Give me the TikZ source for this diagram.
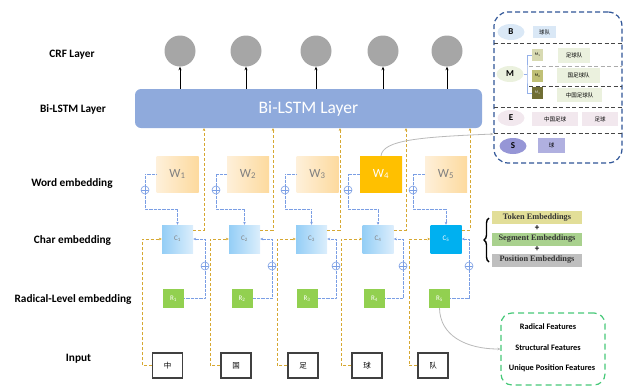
\documentclass[tikz,border=0pt]{standalone}
\usepackage{fontspec}
\setmainfont{Carlito}
\newfontfamily\cjk{Noto Sans CJK SC}
\newfontfamily\tms{Liberation Serif}
\usetikzlibrary{arrows.meta,shapes.geometric,decorations.pathreplacing}

\definecolor{lstmblue}{RGB}{143,170,220}
\definecolor{crfgray}{RGB}{166,166,166}
\definecolor{wlight}{RGB}{254,240,218}
\definecolor{wdark}{RGB}{253,218,158}
\definecolor{whi}{RGB}{255,192,0}
\definecolor{cdark}{RGB}{148,206,246}
\definecolor{clight}{RGB}{220,238,252}
\definecolor{chi}{RGB}{0,176,240}
\definecolor{rgreen}{RGB}{146,208,80}
\definecolor{feedc}{RGB}{214,168,50}
\definecolor{linkc}{RGB}{122,158,228}
\definecolor{panelc}{RGB}{47,85,151}
\definecolor{sepc}{RGB}{70,70,70}
\definecolor{bfill}{RGB}{218,232,246}
\definecolor{mfill}{RGB}{235,241,222}
\definecolor{efill}{RGB}{242,232,238}
\definecolor{sfill}{RGB}{150,150,214}
\definecolor{sbox}{RGB}{176,176,224}
\definecolor{mone}{RGB}{216,218,178}
\definecolor{mtwo}{RGB}{192,192,118}
\definecolor{mthree}{RGB}{112,110,52}
\definecolor{tokc}{RGB}{226,222,152}
\definecolor{segc}{RGB}{169,209,142}
\definecolor{posc}{RGB}{191,191,191}
\definecolor{featc}{RGB}{70,200,120}
\definecolor{curvec}{RGB}{185,185,185}

\tikzset{
  crf/.style={circle,fill=crfgray,minimum size=31pt,inner sep=0pt},
  uparrow/.style={-{Stealth[length=3.5pt,width=3pt]},line width=0.9pt,black},
  lstmbox/.style={rounded corners=6pt,fill=lstmblue,minimum width=347pt,minimum height=39pt,
    text=white,font=\fontsize{17.5}{17.5}\selectfont},
  wbox/.style={minimum width=42pt,minimum height=36pt,inner sep=0pt,font=\fontsize{12.5}{12.5}\selectfont},
  cbox/.style={minimum width=31pt,minimum height=28pt,inner sep=0pt,font=\fontsize{7}{7}\selectfont},
  rbox/.style={fill=rgreen,minimum width=21pt,minimum height=19pt,inner sep=0pt,text=white,
    font=\fontsize{7}{7}\selectfont},
  inbox/.style={draw=black!75,line width=1.2pt,fill=white,minimum width=30pt,minimum height=25pt,
    inner sep=0pt,font=\cjk\fontsize{7.5}{7.5}\selectfont},
  feed/.style={feedc,dash pattern=on 3pt off 2pt,line width=0.8pt},
  link/.style={linkc,dash pattern=on 0.7pt off 0.6pt,line width=1pt},
  tip/.style={-{Stealth[length=3pt,width=2.6pt]}},
  oplus/.style={circle,draw=linkc,line width=0.6pt,minimum size=8pt,inner sep=0pt,fill=white,
    path picture={\draw[linkc,line width=0.6pt]
      (path picture bounding box.north) -- (path picture bounding box.south)
      (path picture bounding box.west) -- (path picture bounding box.east);}},
  rowlabel/.style={font=\bfseries\fontsize{11.3}{11.3}\selectfont},
  tag/.style={ellipse,minimum width=27pt,minimum height=16pt,inner sep=0pt,font=\bfseries\fontsize{9}{9}\selectfont},
  wordbox/.style={inner sep=0pt,font=\cjk\fontsize{5.5}{5.5}\selectfont},
  mbox/.style={minimum width=11pt,minimum height=12pt,inner sep=0pt,font=\fontsize{4}{4}\selectfont},
  sep/.style={sepc,dash pattern=on 4pt off 2.5pt,line width=0.8pt},
  embbox/.style={minimum width=90pt,minimum height=13pt,inner sep=0pt,
    font=\tms\bfseries\fontsize{8.3}{8.3}\selectfont,text=black!80},
  featbox/.style={draw=featc,dash pattern=on 6pt off 4pt,line width=1.2pt,rounded corners=11pt,
    minimum width=104pt,minimum height=72pt},
  feattext/.style={font=\bfseries\fontsize{8.3}{8.3}\selectfont},
  greycurve/.style={curvec,line width=0.8pt,-{Stealth[length=3pt,width=2.6pt]}}
}

\begin{document}
\begin{tikzpicture}[x=1pt,y=-1pt]
\useasboundingbox (0,0) rectangle (625,386);

% row labels
\node[rowlabel] (lcrf) at (72,55) {CRF Layer};
\node[rowlabel] (llstm) at (73,109) {Bi-LSTM Layer};
\node[rowlabel] (lword) at (72,183) {Word embedding};
\node[rowlabel] (lchar) at (72.5,240) {Char embedding};
\node[rowlabel] (lrad) at (73,299) {Radical-Level embedding};
\node[rowlabel] (lin) at (78.5,359) {Input};

% recurrent layer
\node[lstmbox] (lstm) at (308.5,108.5) {Bi-LSTM Layer};

% one column per character
\foreach \i/\ox/\lx/\wx/\qx/\cx/\sx/\rx/\nx/\bx/\ch/\wa/\wb/\wt/\ca/\cb/\ct in {
  1/180/204/177.5/145/177.5/205/173.5/167.5/142/中/wlight/wdark/gray/cdark/clight/gray,
  2/246/273/248/216/244.5/272/242/236/210/国/wlight/wdark/gray/cdark/clight/gray,
  3/316/340/317.5/285/311.5/336/307/303/277/足/wlight/wdark/gray/cdark/clight/gray,
  4/383/406/381/348/378/403/374.5/367/341/球/whi/whi/white/cdark/clight/gray,
  5/447/470/446/413/446/469/439.5/433/409/队/wlight/wdark/gray/chi/chi/white}{
  % output and its arrow
  \node[crf] (o\i) at (\ox,51) {};
  \draw[uparrow] (lstm.north -| o\i.south) -- (o\i.south);
  % boxes
  \node[wbox,left color=\wa,right color=\wb,text=\wt] (w\i) at (\wx,174) {W\textsubscript{\i}};
  \node[cbox,left color=\ca,right color=\cb,text=\ct] (c\i) at (\cx,239) {C\textsubscript{\i}};
  \node[rbox] (r\i) at (\rx,298.5) {R\textsubscript{\i}};
  \node[inbox] (n\i) at (\nx,365.5) {\ch};
  \node[oplus] (q\i) at (\qx,190) {};
  \node[oplus] (s\i) at (\sx,266) {};
  % helper points of the routes
  \coordinate (t\i) at (\lx,128);
  \coordinate (k\i) at (\lx,230);
  \coordinate (b\i) at (\bx,239);
  \coordinate (m\i) at (\cx,209);
  % char embedding -> Bi-LSTM
  \draw[feed,tip] (c\i.east |- k\i) -- (k\i) -- (t\i);
  % input character -> char embedding
  \draw[feed,tip] (n\i.west) -| (b\i) -- (c\i.west);
  % word embedding -> char embedding
  \draw[link] (w\i.west) -| (q\i.north);
  \draw[link,tip] (q\i.south) |- (m\i) -- (c\i.north);
  % radical embedding -> char embedding
  \draw[link] (r\i.east) -| (s\i.south);
  \draw[link,tip] (s\i.north) |- (c\i.east);
}

% lexicon panel (B / M / E / S)
\node[draw=panelc,dash pattern=on 5pt off 3pt,line width=1.2pt,rounded corners=14pt,
  minimum width=128pt,minimum height=151pt] (panel) at (558,87.5) {};
\draw[sep] (494,43) -- (622,43);
\draw[sep] (494,107) -- (622,107);
\draw[sep] (494,133) -- (622,133);
\draw[sep,sepc!45] (529,66) -- (622,66);
\draw[sep] (529,86) -- (622,86);

\node[tag,fill=bfill] (tb) at (511,32) {B};
\node[wordbox,fill=bfill,minimum width=23pt,minimum height=12pt] (wb) at (544.5,32) {球队};

\node[tag,fill=mfill] (tm) at (510,74) {M};
\node[mbox,fill=mone] (m1) at (537.5,55) {M\textsubscript{1}};
\node[mbox,fill=mtwo] (m2) at (537.5,76) {M\textsubscript{2}};
\node[mbox,fill=mthree,text=white!85!black] (m3) at (537.5,93) {M\textsubscript{3}};
\draw[linkc!80,line width=0.7pt] (tm.east) -- (527,74);
\draw[linkc!80,line width=0.7pt] (m1.west) -| (527,74) |- (m3.west);
\node[wordbox,fill=mfill,minimum width=32pt,minimum height=15pt] (w11) at (574,55.5) {足球队};
\node[wordbox,fill=mfill,minimum width=43pt,minimum height=15pt] (w12) at (578.5,75.5) {国足球队};
\node[wordbox,fill=mfill,minimum width=45pt,minimum height=14pt] (w13) at (579.5,95) {中国足球队};

\node[tag,fill=efill] (te) at (511,118) {E};
\node[wordbox,fill=efill,minimum width=46pt,minimum height=14pt] (we1) at (555,119) {中国足球};
\node[wordbox,fill=efill,minimum width=36pt,minimum height=14pt] (we2) at (600,119) {足球};

\node[tag,fill=sfill] (ts) at (513,146) {S};
\node[wordbox,fill=sbox,minimum width=27pt,minimum height=15pt] (ws) at (551.5,145.5) {球};

\draw[greycurve] (w4.north) .. controls (383,140) and (420,137) .. ([yshift=-46.5pt]panel.west);

% BERT-style embedding sum
\node[embbox,fill=tokc] (tok) at (537,217.5) {Token Embeddings};
\node[embbox,fill=segc] (seg) at (537,239) {Segment Embeddings};
\node[embbox,fill=posc] (pos) at (537,260) {Position Embeddings};
\node[font=\bfseries\fontsize{9}{9}\selectfont,inner sep=0pt] (pl1) at (537,228.5) {+};
\node[font=\bfseries\fontsize{9}{9}\selectfont,inner sep=0pt] (pl2) at (537,249.5) {+};
\draw[decorate,decoration={brace,amplitude=5pt},line width=1.4pt] (489,262) -- (489,218);

% radical feature group
\node[featbox] (feat) at (553,349) {};
\node[feattext] (f1) at (548,327) {Radical Features};
\node[feattext] (f2) at (548,348) {Structural Features};
\node[feattext] (f3) at (552,368) {Unique Position Features};
\draw[greycurve] (r5.south) .. controls (440,335) and (465,349) .. (feat.west);
\end{tikzpicture}
\end{document}
